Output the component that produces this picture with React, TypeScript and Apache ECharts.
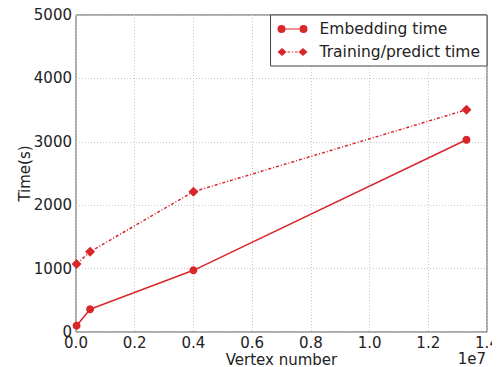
import React, { useEffect, useRef } from "react";
import * as echarts from "echarts";

const vertexNumbers = [0.02e6, 0.48e6, 4.0e6, 13.3e6];
const embeddingTime = [100, 358, 973, 3033];
const trainingTime = [1072, 1267, 2213, 3506];
const seriesNames = ["Embedding time", "Training/predict time"];

const RED = "#d9262b";

const circleIcon =
  "path://M0,4a4,4 0 1,0 8,0a4,4 0 1,0 -8,0Z M8,3.4L22,3.4L22,4.6L8,4.6Z M22,4a4,4 0 1,0 8,0a4,4 0 1,0 -8,0Z";
const diamondIcon =
  "path://M0,4L4.5,0L9,4L4.5,8Z M10,3.4L12.5,3.4L12.5,4.6L10,4.6Z M14.3,3.4L15.7,3.4L15.7,4.6L14.3,4.6Z M17.5,3.4L20,3.4L20,4.6L17.5,4.6Z M21,4L25.5,0L30,4L25.5,8Z";

export default function App() {
  const ref = useRef<HTMLDivElement>(null);
  useEffect(() => {
    const chart = echarts.init(ref.current!, null, { renderer: "svg" });
    const font = "DejaVu Sans";
    chart.setOption({
      animation: false,
      textStyle: { fontFamily: font },
      grid: {
        left: 76,
        right: 13,
        top: 15,
        bottom: 35,
        show: true,
        borderColor: "#555",
        borderWidth: 1,
        backgroundColor: "#fff",
        containLabel: false,
        outerBoundsMode: "none",
      },
      legend: {
        orient: "vertical",
        right: 13,
        top: 15,
        backgroundColor: "#fff",
        borderColor: "#444",
        borderWidth: 1,
        borderRadius: 0,
        padding: [6, 7, 6, 7],
        itemGap: 7,
        itemWidth: 30,
        itemHeight: 8,
        textStyle: { fontFamily: font, fontSize: 15.5, color: "#222", padding: [0, 0, 0, 7] },
        data: [
          { name: seriesNames[0], icon: circleIcon },
          { name: seriesNames[1], icon: diamondIcon },
        ],
      },
      xAxis: {
        type: "value",
        min: 0,
        max: 1.4e7,
        interval: 2e6,
        name: "Vertex number",
        nameLocation: "middle",
        nameGap: 20,
        nameMoveOverlap: false,
        nameTextStyle: { fontFamily: font, fontSize: 15, color: "#222" },
        axisLine: { show: false },
        axisTick: { show: false },
        axisLabel: {
          fontFamily: font,
          fontSize: 15,
          color: "#222",
          margin: 3,
          formatter: (v: number) => (v / 1e7).toFixed(1),
        },
        splitLine: { show: true, lineStyle: { color: "#c8c8c8", type: [1, 2], width: 1 } },
      },
      yAxis: {
        type: "value",
        min: 0,
        max: 5000,
        interval: 1000,
        name: "Time(s)",
        nameLocation: "middle",
        nameGap: 44,
        nameMoveOverlap: false,
        nameTextStyle: { fontFamily: font, fontSize: 15, color: "#222" },
        axisLine: { show: false },
        axisTick: { show: false },
        axisLabel: {
          fontFamily: font,
          fontSize: 15,
          color: "#222",
          margin: 4,
          formatter: (v: number) => String(v),
        },
        splitLine: { show: true, lineStyle: { color: "#c8c8c8", type: [1, 2], width: 1 } },
      },
      graphic: [
        {
          type: "text",
          right: 14,
          top: 351,
          style: { text: "1e7", fontFamily: font, fontSize: 15, fill: "#222" },
        },
      ],
      series: [
        {
          name: seriesNames[0],
          type: "line",
          data: vertexNumbers.map((x, i) => [x, embeddingTime[i]]),
          symbol: "circle",
          symbolSize: 8,
          itemStyle: { color: RED },
          lineStyle: { color: RED, width: 1.5 },
          clip: false,
        },
        {
          name: seriesNames[1],
          type: "line",
          data: vertexNumbers.map((x, i) => [x, trainingTime[i]]),
          symbol: "diamond",
          symbolSize: 10,
          itemStyle: { color: RED },
          lineStyle: { color: RED, width: 1.5, type: [3, 2, 1, 2] },
          clip: false,
        },
      ],
    });
    return () => chart.dispose();
  }, []);
  return <div ref={ref} style={{ width: 500, height: 367, marginLeft: -8, marginTop: -8 }} />;
}
